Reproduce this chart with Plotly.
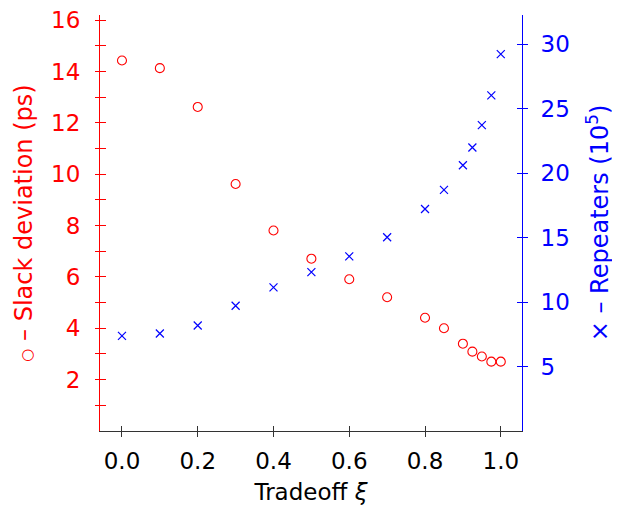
import plotly.graph_objects as go

tradeoff = [0.0, 0.1, 0.2, 0.3, 0.4, 0.5, 0.6, 0.7, 0.8, 0.85, 0.9, 0.925, 0.95, 0.975, 1.0]
slack_dev = [14.43, 14.13, 12.62, 9.62, 7.81, 6.71, 5.91, 5.21, 4.41, 4.0, 3.40, 3.09, 2.90, 2.70, 2.70]
repeaters = [7.38, 7.56, 8.18, 9.71, 11.13, 12.32, 13.54, 15.02, 17.21, 18.69, 20.6, 21.98, 23.71, 26.02, 29.22]

x_ticks = [0.0, 0.2, 0.4, 0.6, 0.8, 1.0]
x_ticktext = ["0.0", "0.2", "0.4", "0.6", "0.8", "1.0"]

RED = "#ff0000"
BLUE = "#0000ff"
FONT = "DejaVu Sans"
FS = 23

xr = [-0.058, 1.056]
yr = [0, 16.2]
y2r = [0, 32.25]

fig = go.Figure()
fig.add_trace(go.Scatter(x=tradeoff, y=slack_dev, mode="markers",
                         marker=dict(symbol="circle-open", size=9, color=RED, line=dict(width=1.1, color=RED)),
                         showlegend=False))
fig.add_trace(go.Scatter(x=tradeoff, y=repeaters, mode="markers", yaxis="y2",
                         marker=dict(symbol="x-thin-open", size=8, color=BLUE, line=dict(width=1.2, color=BLUE)),
                         showlegend=False))
# dummy traces so the overlay tick axes are drawn
fig.add_trace(go.Scatter(x=[None], y=[None], xaxis="x2", yaxis="y3", showlegend=False, hoverinfo="skip"))
fig.add_trace(go.Scatter(x=[None], y=[None], xaxis="x2", yaxis="y4", showlegend=False, hoverinfo="skip"))

fig.update_layout(
    width=612, height=505,
    margin=dict(l=92, r=98, t=7, b=82),
    paper_bgcolor="white", plot_bgcolor="white",
    font=dict(family=FONT, size=FS, color="black"),
    xaxis=dict(range=xr, tickvals=x_ticks, ticktext=x_ticktext, ticks="outside", ticklen=5,
               tickcolor="#333333", tickwidth=1, showline=True, linecolor="#333333", linewidth=1,
               showgrid=False, zeroline=False, anchor="y", automargin=False, ticklabelstandoff=4,
               tickfont=dict(size=FS, color="black"),
               title=dict(text="Tradeoff <i>ξ</i>", font=dict(size=FS, color="black"), standoff=11)),
    xaxis2=dict(range=xr, overlaying="x", anchor="y3", tickvals=x_ticks, ticks="inside", ticklen=5,
                tickcolor="#333333", showticklabels=False, showline=False, showgrid=False, zeroline=False,
                automargin=False),
    yaxis=dict(range=yr, tickvals=[2, 4, 6, 8, 10, 12, 14, 16], ticks="outside", ticklen=4,
               tickcolor=RED, showline=True, linecolor=RED, linewidth=1, ticklabelstandoff=10,
               ticklabeloverflow="allow",
               minor=dict(tickvals=[1, 3, 5, 7, 9, 11, 13, 15], ticks="outside", ticklen=4, tickcolor=RED),
               showgrid=False, zeroline=False, anchor="x", automargin=False,
               tickfont=dict(size=FS, color=RED),
               title=dict(text="<span style='font-size:15px'>○</span> – Slack deviation (ps)",
                          font=dict(size=24, color=RED), standoff=11)),
    yaxis3=dict(range=yr, overlaying="y", anchor="x", side="left",
                tickvals=list(range(1, 17)), ticks="inside", ticklen=6, tickcolor=RED,
                showticklabels=False, showline=False, showgrid=False, zeroline=False, automargin=False),
    yaxis2=dict(range=y2r, overlaying="y", side="right", anchor="x", tickvals=[5, 10, 15, 20, 25, 30],
                ticks="outside", ticklen=5, tickcolor=BLUE, showline=True, linecolor=BLUE, linewidth=1,
                showgrid=False, zeroline=False, automargin=False, ticklabelstandoff=8,
                ticklabeloverflow="allow",
                tickfont=dict(size=FS, color=BLUE),
                title=dict(text="× – Repeaters (10<sup>5</sup>)", font=dict(size=24, color=BLUE), standoff=22)),
    yaxis4=dict(range=y2r, overlaying="y", side="right", anchor="x", tickvals=[5, 10, 15, 20, 25, 30],
                ticks="inside", ticklen=5, tickcolor=BLUE, showticklabels=False, showline=False,
                showgrid=False, zeroline=False, automargin=False),
)

fig.write_html("out.html")
